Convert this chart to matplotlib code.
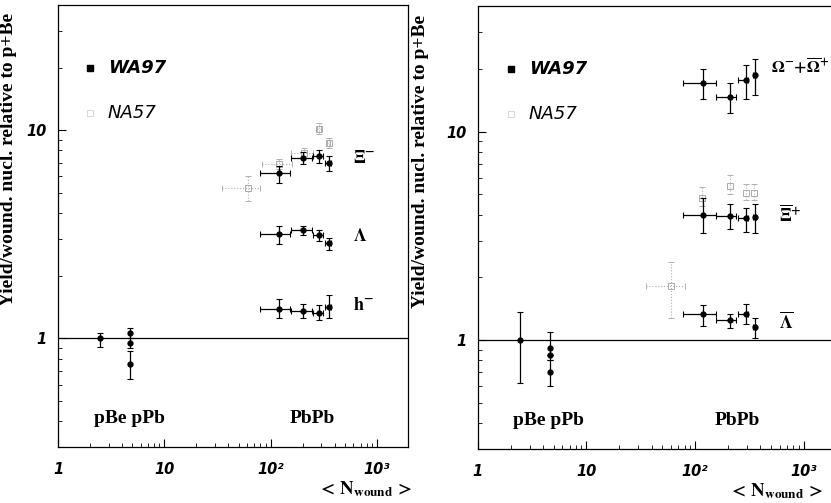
import numpy as np
import matplotlib
matplotlib.use("Agg")
import matplotlib.pyplot as plt
from matplotlib.ticker import FixedLocator, FixedFormatter, LogLocator, NullFormatter

plt.rcParams['mathtext.fontset'] = 'stix'

# ---- left panel: Xi-, Lambda, h- ----
ref_x_left = [2.5]
ref_y_left = [1.0]
ref_lo_left = [0.91]
ref_hi_left = [1.06]

ppb_x_left = [4.74, 4.74, 4.74]
ppb_y_left = [1.06, 0.95, 0.75]
ppb_lo_left = [1.00, 0.90, 0.64]
ppb_hi_left = [1.12, 1.00, 0.87]

wa97_x = [119, 200, 282, 351]
wa97_xlo = [79, 154, 248, 322]
wa97_xhi = [151, 247, 310, 370]

xim_y = [6.2, 7.4, 7.5, 7.0]
xim_lo = [5.6, 6.9, 7.0, 6.4]
xim_hi = [6.7, 7.9, 8.0, 7.5]

na57_xim_x = [61, 119, 204, 282, 351]
na57_xim_xlo = [35, 82, 155, 270, 340]
na57_xim_xhi = [79, 157, 250, 295, 362]
na57_xim_y = [5.3, 6.9, 7.8, 10.2, 8.7]
na57_xim_lo = [4.55, 6.5, 7.4, 9.6, 8.2]
na57_xim_hi = [6.0, 7.3, 8.2, 10.8, 9.2]

lam_y = [3.16, 3.30, 3.13, 2.86]
lam_lo = [2.85, 3.15, 2.95, 2.65]
lam_hi = [3.45, 3.45, 3.30, 3.05]

hm_y = [1.39, 1.35, 1.32, 1.41]
hm_lo = [1.25, 1.25, 1.22, 1.25]
hm_hi = [1.54, 1.47, 1.45, 1.62]

# ---- right panel: Omega, anti-Xi, anti-Lambda ----
ref_x_right = [2.42]
ref_y_right = [1.0]
ref_lo_right = [0.62]
ref_hi_right = [1.37]

ppb_x_right = [4.6, 4.6, 4.6]
ppb_y_right = [0.915, 0.846, 0.70]
ppb_lo_right = [0.80, 0.846, 0.60]
ppb_hi_right = [1.10, 0.846, 0.80]

wa97r_x = [119, 208, 293, 355]
wa97r_xlo = [77, 157, 250, 345]
wa97r_xhi = [157, 240, 305, 365]

om_y = [17.1, 14.6, 17.6, 18.6]
om_lo = [14.4, 12.3, 14.4, 14.9]
om_hi = [19.9, 17.1, 20.8, 22.2]

axi_y = [3.97, 3.93, 3.84, 3.88]
axi_lo = [3.28, 3.40, 3.30, 3.25]
axi_hi = [4.80, 4.50, 4.30, 4.50]

na57_axi_x = [117, 208, 293, 350]
na57_axi_y = [4.8, 5.5, 5.1, 5.1]
na57_axi_lo = [4.4, 5.0, 4.7, 4.7]
na57_axi_hi = [5.4, 6.2, 5.6, 5.6]

na57_alam_x = [60]
na57_alam_xlo = [35]
na57_alam_xhi = [80]
na57_alam_y = [1.82]
na57_alam_lo = [1.28]
na57_alam_hi = [2.38]

alam_y = [1.34, 1.25, 1.34, 1.155]
alam_lo = [1.17, 1.14, 1.19, 1.02]
alam_hi = [1.48, 1.34, 1.49, 1.28]

xtick_vals = [1, 10, 100, 1000]
xtick_labels = ['1', '10', '10²', '10³']
ytick_vals = [1, 10]
ytick_labels = ['1', '10']


def errs(x, y, lo=None, hi=None, xlo=None, xhi=None):
    x = np.array(x, float)
    y = np.array(y, float)
    yerr = None
    xerr = None
    if lo is not None:
        yerr = [y - np.array(lo), np.array(hi) - y]
    if xlo is not None:
        xerr = [x - np.array(xlo), np.array(xhi) - x]
    return x, y, xerr, yerr


def wa97(ax, *args):
    x, y, xerr, yerr = errs(*args)
    ax.errorbar(x, y, yerr=yerr, xerr=xerr, fmt='o', ms=3.5, color='black',
                ecolor='black', elinewidth=0.9, capsize=2, capthick=0.8, zorder=4)


def na57(ax, *args):
    x, y, xerr, yerr = errs(*args)
    eb = ax.errorbar(x, y, yerr=yerr, xerr=xerr, fmt='s', ms=4.5, mfc='none',
                     mec='#aaaaaa', mew=0.7, ecolor='#b0b0b0', elinewidth=0.8,
                     capsize=2, capthick=0.7, zorder=3)
    for c in eb[2]:
        c.set_linestyle(':')


def setup(ax, ylab_x, xlab_x):
    ax.set_xscale('log')
    ax.set_yscale('log')
    ax.set_xlim(1, 1950)
    ax.set_ylim(0.3, 40)
    ax.axhline(1.0, color='black', lw=0.9, zorder=2)
    ax.xaxis.set_major_locator(FixedLocator(xtick_vals))
    ax.xaxis.set_major_formatter(FixedFormatter(xtick_labels))
    ax.xaxis.set_minor_locator(LogLocator(base=10, subs=np.arange(2, 10)))
    ax.xaxis.set_minor_formatter(NullFormatter())
    ax.yaxis.set_major_locator(FixedLocator(ytick_vals))
    ax.yaxis.set_major_formatter(FixedFormatter(ytick_labels))
    ax.yaxis.set_minor_locator(LogLocator(base=10, subs=np.arange(2, 10)))
    ax.yaxis.set_minor_formatter(NullFormatter())
    ax.tick_params(which='both', direction='in', top=False, right=False)
    ax.tick_params(which='major', length=6, width=0.8)
    ax.tick_params(axis='x', which='major', pad=11)
    ax.tick_params(axis='y', which='major', pad=8)
    ax.tick_params(which='minor', length=3, width=0.6)
    for lab in ax.get_xticklabels() + ax.get_yticklabels():
        lab.set_fontweight('bold')
        lab.set_fontstyle('italic')
        lab.set_fontsize(10.5)
    for s in ax.spines.values():
        s.set_linewidth(0.9)
    ax.set_ylabel('Yield/wound. nucl. relative to p+Be', family='Liberation Serif',
                  fontweight='bold', fontsize=14)
    ax.yaxis.set_label_coords(ylab_x, 0.65)
    ax.text(xlab_x, -0.094, r'$\mathbf{<\,N_{wound}\,>}$', transform=ax.transAxes,
            ha='center', va='center', fontsize=13.5)
    # legend
    ax.plot([2.0], [19.9], 's', ms=4.5, color='black')
    ax.text(2.95, 19.9, 'WA97', fontweight='bold', fontstyle='italic', fontsize=13,
            va='center')
    ax.plot([2.0], [12.1], 's', ms=4.5, mfc='none', mec='#d0d0d0', mew=0.6)
    ax.text(2.95, 12.1, 'NA57', fontstyle='italic', fontsize=13, va='center')


def system_labels(ax, x_small, x_big):
    ax.text(x_small, 0.41, 'pBe pPb', family='Liberation Serif', fontweight='bold',
            fontsize=14, ha='center', va='center')
    ax.text(x_big, 0.41, 'PbPb', family='Liberation Serif', fontweight='bold',
            fontsize=14, ha='center', va='center')


fig = plt.figure(figsize=(8.31, 5.03), dpi=100)
ax1 = fig.add_axes([0.0698, 0.111, 0.421, 0.879])
ax2 = fig.add_axes([0.575, 0.107, 0.43, 0.881])

# left
setup(ax1, -0.117, 0.877)
system_labels(ax1, 4.74, 248)
wa97(ax1, ref_x_left, ref_y_left, ref_lo_left, ref_hi_left)
wa97(ax1, ppb_x_left, ppb_y_left, ppb_lo_left, ppb_hi_left)
na57(ax1, na57_xim_x, na57_xim_y, na57_xim_lo, na57_xim_hi, na57_xim_xlo, na57_xim_xhi)
wa97(ax1, wa97_x, xim_y, xim_lo, xim_hi, wa97_xlo, wa97_xhi)
wa97(ax1, wa97_x, lam_y, lam_lo, lam_hi, wa97_xlo, wa97_xhi)
wa97(ax1, wa97_x, hm_y, hm_lo, hm_hi, wa97_xlo, wa97_xhi)
ax1.text(590, 7.4, r'$\mathbf{\Xi^{-}}$', fontsize=13, ha='left', va='center')
ax1.text(600, 3.1, r'$\mathbf{\Lambda}$', fontsize=13, ha='left', va='center')
ax1.text(600, 1.45, r'$\mathbf{h^{-}}$', fontsize=13, ha='left', va='center')

# right
setup(ax2, -0.136, 0.835)
system_labels(ax2, 4.5, 246)
wa97(ax2, ref_x_right, ref_y_right, ref_lo_right, ref_hi_right)
wa97(ax2, ppb_x_right, ppb_y_right, ppb_lo_right, ppb_hi_right)
na57(ax2, na57_axi_x, na57_axi_y, na57_axi_lo, na57_axi_hi)
na57(ax2, na57_alam_x, na57_alam_y, na57_alam_lo, na57_alam_hi, na57_alam_xlo, na57_alam_xhi)
wa97(ax2, wa97r_x, om_y, om_lo, om_hi, wa97r_xlo, wa97r_xhi)
wa97(ax2, wa97r_x, axi_y, axi_lo, axi_hi, wa97r_xlo, wa97r_xhi)
wa97(ax2, wa97r_x, alam_y, alam_lo, alam_hi, wa97r_xlo, wa97r_xhi)
ax2.text(505, 20.5, r'$\mathbf{\Omega^{-}\!+\!\overline{\Omega}^{+}}$', fontsize=12,
         ha='left', va='center')
ax2.text(597, 4.0, r'$\mathbf{\overline{\Xi}^{+}}$', fontsize=13, ha='left', va='center')
ax2.text(597, 1.22, r'$\mathbf{\overline{\Lambda}}$', fontsize=13, ha='left', va='center')

fig.savefig('out.png', dpi=100)
